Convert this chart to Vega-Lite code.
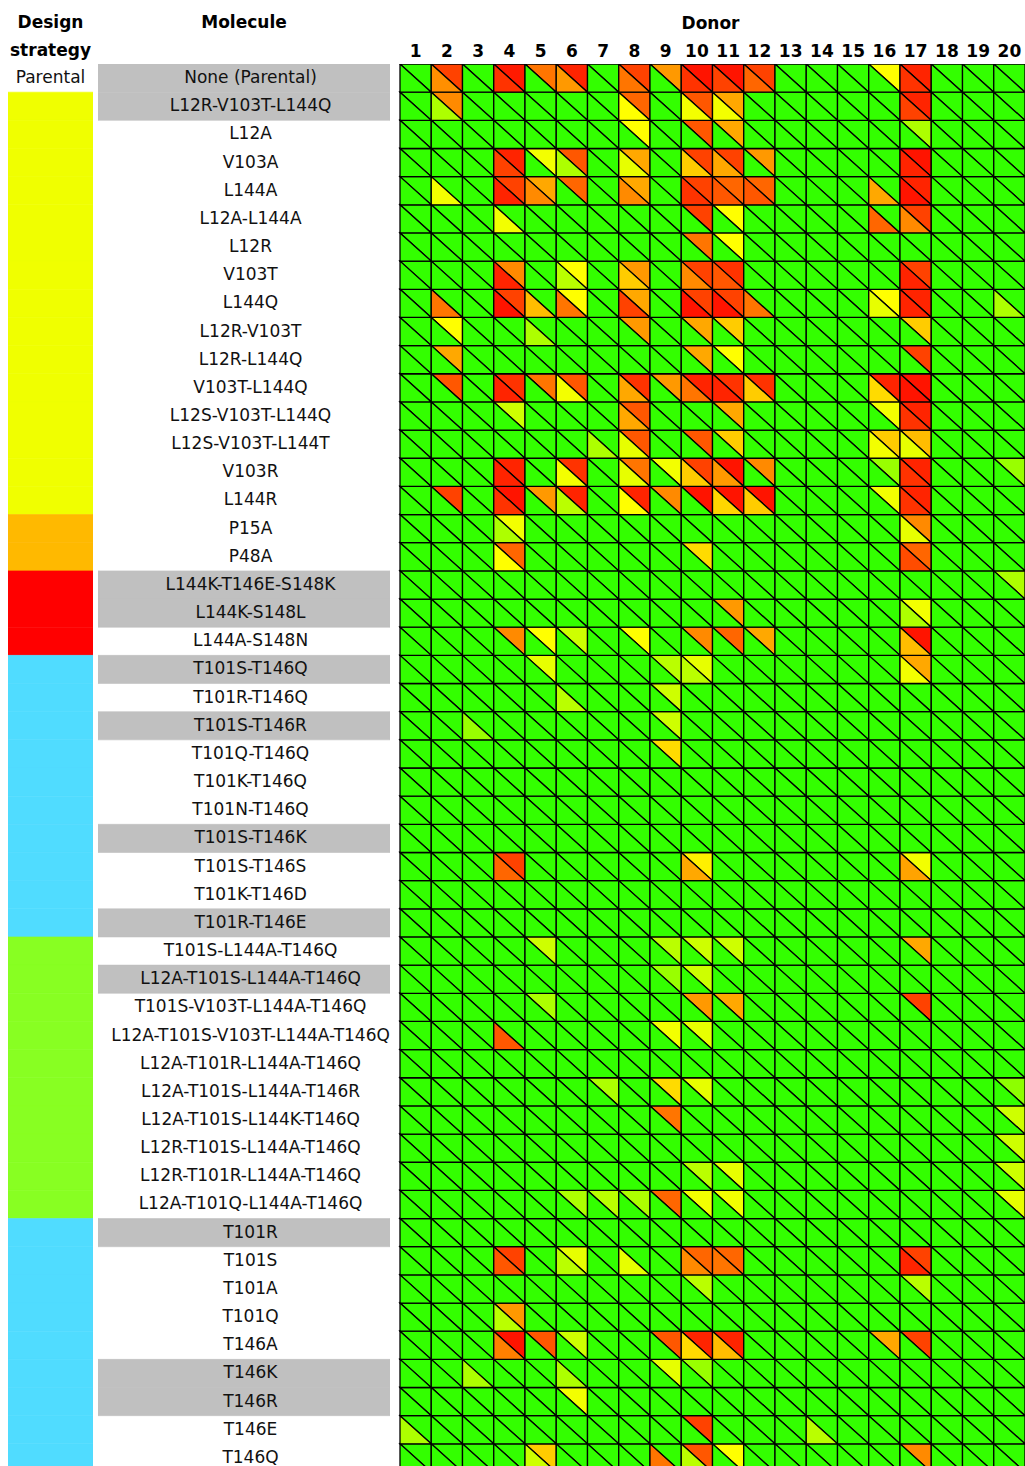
{
"$schema":"https://vega.github.io/schema/vega-lite/v6.json",
"background":"white",
"padding":{"left":8,"top":14,"right":0,"bottom":0},
"spacing":5,
"bounds":"flush",
"config":{"view":{"stroke":null},"font":"DejaVu Sans","title":{"font":"DejaVu Sans","fontSize":17,"fontWeight":"bold","color":"black","anchor":"middle"}},
"datasets":{
"rows":[
{"r":1,"m":"None (Parental)","s":"Parental","g":1},
{"r":2,"m":"L12R-V103T-L144Q","s":"S1","g":1},
{"r":3,"m":"L12A","s":"S1","g":0},
{"r":4,"m":"V103A","s":"S1","g":0},
{"r":5,"m":"L144A","s":"S1","g":0},
{"r":6,"m":"L12A-L144A","s":"S1","g":0},
{"r":7,"m":"L12R","s":"S1","g":0},
{"r":8,"m":"V103T","s":"S1","g":0},
{"r":9,"m":"L144Q","s":"S1","g":0},
{"r":10,"m":"L12R-V103T","s":"S1","g":0},
{"r":11,"m":"L12R-L144Q","s":"S1","g":0},
{"r":12,"m":"V103T-L144Q","s":"S1","g":0},
{"r":13,"m":"L12S-V103T-L144Q","s":"S1","g":0},
{"r":14,"m":"L12S-V103T-L144T","s":"S1","g":0},
{"r":15,"m":"V103R","s":"S1","g":0},
{"r":16,"m":"L144R","s":"S1","g":0},
{"r":17,"m":"P15A","s":"S2","g":0},
{"r":18,"m":"P48A","s":"S2","g":0},
{"r":19,"m":"L144K-T146E-S148K","s":"S3","g":1},
{"r":20,"m":"L144K-S148L","s":"S3","g":1},
{"r":21,"m":"L144A-S148N","s":"S3","g":0},
{"r":22,"m":"T101S-T146Q","s":"S4","g":1},
{"r":23,"m":"T101R-T146Q","s":"S4","g":0},
{"r":24,"m":"T101S-T146R","s":"S4","g":1},
{"r":25,"m":"T101Q-T146Q","s":"S4","g":0},
{"r":26,"m":"T101K-T146Q","s":"S4","g":0},
{"r":27,"m":"T101N-T146Q","s":"S4","g":0},
{"r":28,"m":"T101S-T146K","s":"S4","g":1},
{"r":29,"m":"T101S-T146S","s":"S4","g":0},
{"r":30,"m":"T101K-T146D","s":"S4","g":0},
{"r":31,"m":"T101R-T146E","s":"S4","g":1},
{"r":32,"m":"T101S-L144A-T146Q","s":"S5","g":0},
{"r":33,"m":"L12A-T101S-L144A-T146Q","s":"S5","g":1},
{"r":34,"m":"T101S-V103T-L144A-T146Q","s":"S5","g":0},
{"r":35,"m":"L12A-T101S-V103T-L144A-T146Q","s":"S5","g":0},
{"r":36,"m":"L12A-T101R-L144A-T146Q","s":"S5","g":0},
{"r":37,"m":"L12A-T101S-L144A-T146R","s":"S5","g":0},
{"r":38,"m":"L12A-T101S-L144K-T146Q","s":"S5","g":0},
{"r":39,"m":"L12R-T101S-L144A-T146Q","s":"S5","g":0},
{"r":40,"m":"L12R-T101R-L144A-T146Q","s":"S5","g":0},
{"r":41,"m":"L12A-T101Q-L144A-T146Q","s":"S5","g":0},
{"r":42,"m":"T101R","s":"S4","g":1},
{"r":43,"m":"T101S","s":"S4","g":0},
{"r":44,"m":"T101A","s":"S4","g":0},
{"r":45,"m":"T101Q","s":"S4","g":0},
{"r":46,"m":"T146A","s":"S4","g":0},
{"r":47,"m":"T146K","s":"S4","g":1},
{"r":48,"m":"T146R","s":"S4","g":1},
{"r":49,"m":"T146E","s":"S4","g":0},
{"r":50,"m":"T146Q","s":"S4","g":0}
],
"cells":[
{"r":1,"d":1,"u":0,"l":0},{"r":1,"d":2,"u":87,"l":72},{"r":1,"d":3,"u":0,"l":0},{"r":1,"d":4,"u":95,"l":90},{"r":1,"d":5,"u":77,"l":0},{"r":1,"d":6,"u":93,"l":70},{"r":1,"d":7,"u":0,"l":0},{"r":1,"d":8,"u":87,"l":77},{"r":1,"d":9,"u":70,"l":0},{"r":1,"d":10,"u":96,"l":90},{"r":1,"d":11,"u":96,"l":87},{"r":1,"d":12,"u":87,"l":80},{"r":1,"d":13,"u":0,"l":0},{"r":1,"d":14,"u":0,"l":0},{"r":1,"d":15,"u":0,"l":0},{"r":1,"d":16,"u":50,"l":0},{"r":1,"d":17,"u":93,"l":90},{"r":1,"d":18,"u":0,"l":0},{"r":1,"d":19,"u":0,"l":0},{"r":1,"d":20,"u":0,"l":0},
{"r":2,"d":1,"u":0,"l":0},{"r":2,"d":2,"u":73,"l":30},{"r":2,"d":3,"u":0,"l":0},{"r":2,"d":4,"u":0,"l":0},{"r":2,"d":5,"u":0,"l":0},{"r":2,"d":6,"u":0,"l":0},{"r":2,"d":7,"u":0,"l":0},{"r":2,"d":8,"u":80,"l":50},{"r":2,"d":9,"u":0,"l":0},{"r":2,"d":10,"u":83,"l":47},{"r":2,"d":11,"u":67,"l":47},{"r":2,"d":12,"u":0,"l":0},{"r":2,"d":13,"u":0,"l":0},{"r":2,"d":14,"u":0,"l":0},{"r":2,"d":15,"u":0,"l":0},{"r":2,"d":16,"u":0,"l":0},{"r":2,"d":17,"u":93,"l":87},{"r":2,"d":18,"u":0,"l":0},{"r":2,"d":19,"u":0,"l":0},{"r":2,"d":20,"u":0,"l":0},
{"r":3,"d":1,"u":0,"l":0},{"r":3,"d":2,"u":0,"l":0},{"r":3,"d":3,"u":0,"l":0},{"r":3,"d":4,"u":0,"l":0},{"r":3,"d":5,"u":0,"l":0},{"r":3,"d":6,"u":0,"l":0},{"r":3,"d":7,"u":0,"l":0},{"r":3,"d":8,"u":50,"l":0},{"r":3,"d":9,"u":0,"l":0},{"r":3,"d":10,"u":83,"l":0},{"r":3,"d":11,"u":67,"l":0},{"r":3,"d":12,"u":0,"l":0},{"r":3,"d":13,"u":0,"l":0},{"r":3,"d":14,"u":0,"l":0},{"r":3,"d":15,"u":0,"l":0},{"r":3,"d":16,"u":0,"l":0},{"r":3,"d":17,"u":30,"l":0},{"r":3,"d":18,"u":0,"l":0},{"r":3,"d":19,"u":0,"l":0},{"r":3,"d":20,"u":0,"l":0},
{"r":4,"d":1,"u":0,"l":0},{"r":4,"d":2,"u":0,"l":0},{"r":4,"d":3,"u":0,"l":0},{"r":4,"d":4,"u":93,"l":87},{"r":4,"d":5,"u":47,"l":0},{"r":4,"d":6,"u":83,"l":30},{"r":4,"d":7,"u":0,"l":0},{"r":4,"d":8,"u":67,"l":44},{"r":4,"d":9,"u":0,"l":0},{"r":4,"d":10,"u":87,"l":60},{"r":4,"d":11,"u":87,"l":67},{"r":4,"d":12,"u":70,"l":0},{"r":4,"d":13,"u":0,"l":0},{"r":4,"d":14,"u":0,"l":0},{"r":4,"d":15,"u":0,"l":0},{"r":4,"d":16,"u":0,"l":0},{"r":4,"d":17,"u":96,"l":93},{"r":4,"d":18,"u":0,"l":0},{"r":4,"d":19,"u":0,"l":0},{"r":4,"d":20,"u":0,"l":0},
{"r":5,"d":1,"u":0,"l":0},{"r":5,"d":2,"u":0,"l":47},{"r":5,"d":3,"u":0,"l":0},{"r":5,"d":4,"u":87,"l":93},{"r":5,"d":5,"u":67,"l":73},{"r":5,"d":6,"u":80,"l":0},{"r":5,"d":7,"u":0,"l":0},{"r":5,"d":8,"u":67,"l":73},{"r":5,"d":9,"u":0,"l":0},{"r":5,"d":10,"u":87,"l":90},{"r":5,"d":11,"u":80,"l":83},{"r":5,"d":12,"u":80,"l":83},{"r":5,"d":13,"u":0,"l":0},{"r":5,"d":14,"u":0,"l":0},{"r":5,"d":15,"u":0,"l":0},{"r":5,"d":16,"u":0,"l":67},{"r":5,"d":17,"u":93,"l":96},{"r":5,"d":18,"u":0,"l":0},{"r":5,"d":19,"u":0,"l":0},{"r":5,"d":20,"u":0,"l":0},
{"r":6,"d":1,"u":0,"l":0},{"r":6,"d":2,"u":0,"l":0},{"r":6,"d":3,"u":0,"l":0},{"r":6,"d":4,"u":0,"l":47},{"r":6,"d":5,"u":0,"l":0},{"r":6,"d":6,"u":0,"l":0},{"r":6,"d":7,"u":0,"l":0},{"r":6,"d":8,"u":0,"l":0},{"r":6,"d":9,"u":0,"l":0},{"r":6,"d":10,"u":87,"l":0},{"r":6,"d":11,"u":50,"l":0},{"r":6,"d":12,"u":0,"l":0},{"r":6,"d":13,"u":0,"l":0},{"r":6,"d":14,"u":0,"l":0},{"r":6,"d":15,"u":0,"l":0},{"r":6,"d":16,"u":0,"l":80},{"r":6,"d":17,"u":87,"l":73},{"r":6,"d":18,"u":0,"l":0},{"r":6,"d":19,"u":0,"l":0},{"r":6,"d":20,"u":0,"l":0},
{"r":7,"d":1,"u":0,"l":0},{"r":7,"d":2,"u":0,"l":0},{"r":7,"d":3,"u":0,"l":0},{"r":7,"d":4,"u":0,"l":0},{"r":7,"d":5,"u":0,"l":0},{"r":7,"d":6,"u":0,"l":0},{"r":7,"d":7,"u":0,"l":0},{"r":7,"d":8,"u":0,"l":0},{"r":7,"d":9,"u":0,"l":0},{"r":7,"d":10,"u":77,"l":0},{"r":7,"d":11,"u":50,"l":0},{"r":7,"d":12,"u":0,"l":0},{"r":7,"d":13,"u":0,"l":0},{"r":7,"d":14,"u":0,"l":0},{"r":7,"d":15,"u":0,"l":0},{"r":7,"d":16,"u":0,"l":0},{"r":7,"d":17,"u":0,"l":0},{"r":7,"d":18,"u":0,"l":0},{"r":7,"d":19,"u":0,"l":0},{"r":7,"d":20,"u":0,"l":0},
{"r":8,"d":1,"u":0,"l":0},{"r":8,"d":2,"u":0,"l":0},{"r":8,"d":3,"u":0,"l":0},{"r":8,"d":4,"u":73,"l":93},{"r":8,"d":5,"u":0,"l":0},{"r":8,"d":6,"u":50,"l":33},{"r":8,"d":7,"u":0,"l":0},{"r":8,"d":8,"u":70,"l":60},{"r":8,"d":9,"u":0,"l":0},{"r":8,"d":10,"u":87,"l":73},{"r":8,"d":11,"u":90,"l":83},{"r":8,"d":12,"u":0,"l":0},{"r":8,"d":13,"u":0,"l":0},{"r":8,"d":14,"u":0,"l":0},{"r":8,"d":15,"u":0,"l":0},{"r":8,"d":16,"u":0,"l":0},{"r":8,"d":17,"u":87,"l":93},{"r":8,"d":18,"u":0,"l":0},{"r":8,"d":19,"u":0,"l":0},{"r":8,"d":20,"u":0,"l":0},
{"r":9,"d":1,"u":0,"l":0},{"r":9,"d":2,"u":0,"l":77},{"r":9,"d":3,"u":0,"l":0},{"r":9,"d":4,"u":87,"l":96},{"r":9,"d":5,"u":0,"l":63},{"r":9,"d":6,"u":50,"l":77},{"r":9,"d":7,"u":0,"l":0},{"r":9,"d":8,"u":67,"l":87},{"r":9,"d":9,"u":0,"l":0},{"r":9,"d":10,"u":87,"l":96},{"r":9,"d":11,"u":87,"l":96},{"r":9,"d":12,"u":0,"l":77},{"r":9,"d":13,"u":0,"l":0},{"r":9,"d":14,"u":0,"l":0},{"r":9,"d":15,"u":0,"l":0},{"r":9,"d":16,"u":50,"l":44},{"r":9,"d":17,"u":93,"l":93},{"r":9,"d":18,"u":0,"l":0},{"r":9,"d":19,"u":0,"l":0},{"r":9,"d":20,"u":0,"l":30},
{"r":10,"d":1,"u":0,"l":0},{"r":10,"d":2,"u":50,"l":0},{"r":10,"d":3,"u":0,"l":0},{"r":10,"d":4,"u":0,"l":0},{"r":10,"d":5,"u":0,"l":30},{"r":10,"d":6,"u":0,"l":0},{"r":10,"d":7,"u":0,"l":0},{"r":10,"d":8,"u":70,"l":0},{"r":10,"d":9,"u":0,"l":0},{"r":10,"d":10,"u":67,"l":0},{"r":10,"d":11,"u":60,"l":0},{"r":10,"d":12,"u":0,"l":0},{"r":10,"d":13,"u":0,"l":0},{"r":10,"d":14,"u":0,"l":0},{"r":10,"d":15,"u":0,"l":0},{"r":10,"d":16,"u":0,"l":0},{"r":10,"d":17,"u":60,"l":0},{"r":10,"d":18,"u":0,"l":0},{"r":10,"d":19,"u":0,"l":0},{"r":10,"d":20,"u":0,"l":0},
{"r":11,"d":1,"u":0,"l":0},{"r":11,"d":2,"u":67,"l":0},{"r":11,"d":3,"u":0,"l":0},{"r":11,"d":4,"u":0,"l":0},{"r":11,"d":5,"u":0,"l":0},{"r":11,"d":6,"u":0,"l":0},{"r":11,"d":7,"u":0,"l":0},{"r":11,"d":8,"u":0,"l":0},{"r":11,"d":9,"u":0,"l":0},{"r":11,"d":10,"u":67,"l":0},{"r":11,"d":11,"u":50,"l":0},{"r":11,"d":12,"u":0,"l":0},{"r":11,"d":13,"u":0,"l":0},{"r":11,"d":14,"u":0,"l":0},{"r":11,"d":15,"u":0,"l":0},{"r":11,"d":16,"u":0,"l":0},{"r":11,"d":17,"u":87,"l":0},{"r":11,"d":18,"u":0,"l":0},{"r":11,"d":19,"u":0,"l":0},{"r":11,"d":20,"u":0,"l":0},
{"r":12,"d":1,"u":0,"l":0},{"r":12,"d":2,"u":83,"l":0},{"r":12,"d":3,"u":0,"l":0},{"r":12,"d":4,"u":90,"l":93},{"r":12,"d":5,"u":77,"l":0},{"r":12,"d":6,"u":83,"l":47},{"r":12,"d":7,"u":0,"l":0},{"r":12,"d":8,"u":90,"l":67},{"r":12,"d":9,"u":70,"l":0},{"r":12,"d":10,"u":93,"l":77},{"r":12,"d":11,"u":90,"l":93},{"r":12,"d":12,"u":90,"l":60},{"r":12,"d":13,"u":0,"l":0},{"r":12,"d":14,"u":0,"l":0},{"r":12,"d":15,"u":0,"l":0},{"r":12,"d":16,"u":93,"l":57},{"r":12,"d":17,"u":96,"l":96},{"r":12,"d":18,"u":0,"l":0},{"r":12,"d":19,"u":0,"l":0},{"r":12,"d":20,"u":0,"l":0},
{"r":13,"d":1,"u":0,"l":0},{"r":13,"d":2,"u":0,"l":0},{"r":13,"d":3,"u":0,"l":0},{"r":13,"d":4,"u":38,"l":0},{"r":13,"d":5,"u":0,"l":0},{"r":13,"d":6,"u":0,"l":0},{"r":13,"d":7,"u":0,"l":0},{"r":13,"d":8,"u":83,"l":67},{"r":13,"d":9,"u":0,"l":0},{"r":13,"d":10,"u":0,"l":0},{"r":13,"d":11,"u":67,"l":0},{"r":13,"d":12,"u":0,"l":0},{"r":13,"d":13,"u":0,"l":0},{"r":13,"d":14,"u":0,"l":0},{"r":13,"d":15,"u":0,"l":0},{"r":13,"d":16,"u":47,"l":0},{"r":13,"d":17,"u":93,"l":90},{"r":13,"d":18,"u":0,"l":0},{"r":13,"d":19,"u":0,"l":0},{"r":13,"d":20,"u":0,"l":0},
{"r":14,"d":1,"u":0,"l":0},{"r":14,"d":2,"u":0,"l":0},{"r":14,"d":3,"u":0,"l":0},{"r":14,"d":4,"u":0,"l":0},{"r":14,"d":5,"u":0,"l":0},{"r":14,"d":6,"u":0,"l":0},{"r":14,"d":7,"u":0,"l":30},{"r":14,"d":8,"u":83,"l":44},{"r":14,"d":9,"u":0,"l":0},{"r":14,"d":10,"u":83,"l":0},{"r":14,"d":11,"u":60,"l":0},{"r":14,"d":12,"u":0,"l":0},{"r":14,"d":13,"u":0,"l":0},{"r":14,"d":14,"u":0,"l":0},{"r":14,"d":15,"u":0,"l":0},{"r":14,"d":16,"u":60,"l":47},{"r":14,"d":17,"u":63,"l":44},{"r":14,"d":18,"u":0,"l":0},{"r":14,"d":19,"u":0,"l":0},{"r":14,"d":20,"u":0,"l":0},
{"r":15,"d":1,"u":0,"l":0},{"r":15,"d":2,"u":0,"l":0},{"r":15,"d":3,"u":0,"l":0},{"r":15,"d":4,"u":93,"l":93},{"r":15,"d":5,"u":0,"l":0},{"r":15,"d":6,"u":90,"l":47},{"r":15,"d":7,"u":0,"l":0},{"r":15,"d":8,"u":77,"l":44},{"r":15,"d":9,"u":47,"l":0},{"r":15,"d":10,"u":87,"l":60},{"r":15,"d":11,"u":96,"l":70},{"r":15,"d":12,"u":73,"l":0},{"r":15,"d":13,"u":0,"l":0},{"r":15,"d":14,"u":0,"l":0},{"r":15,"d":15,"u":0,"l":0},{"r":15,"d":16,"u":25,"l":0},{"r":15,"d":17,"u":93,"l":90},{"r":15,"d":18,"u":0,"l":0},{"r":15,"d":19,"u":0,"l":0},{"r":15,"d":20,"u":25,"l":0},
{"r":16,"d":1,"u":0,"l":0},{"r":16,"d":2,"u":87,"l":0},{"r":16,"d":3,"u":0,"l":0},{"r":16,"d":4,"u":96,"l":90},{"r":16,"d":5,"u":70,"l":0},{"r":16,"d":6,"u":93,"l":33},{"r":16,"d":7,"u":0,"l":0},{"r":16,"d":8,"u":93,"l":50},{"r":16,"d":9,"u":73,"l":0},{"r":16,"d":10,"u":96,"l":0},{"r":16,"d":11,"u":96,"l":58},{"r":16,"d":12,"u":96,"l":60},{"r":16,"d":13,"u":0,"l":0},{"r":16,"d":14,"u":0,"l":0},{"r":16,"d":15,"u":0,"l":0},{"r":16,"d":16,"u":47,"l":0},{"r":16,"d":17,"u":93,"l":90},{"r":16,"d":18,"u":0,"l":0},{"r":16,"d":19,"u":0,"l":0},{"r":16,"d":20,"u":0,"l":0},
{"r":17,"d":1,"u":0,"l":0},{"r":17,"d":2,"u":0,"l":0},{"r":17,"d":3,"u":0,"l":0},{"r":17,"d":4,"u":47,"l":30},{"r":17,"d":5,"u":0,"l":0},{"r":17,"d":6,"u":0,"l":0},{"r":17,"d":7,"u":0,"l":0},{"r":17,"d":8,"u":0,"l":0},{"r":17,"d":9,"u":0,"l":0},{"r":17,"d":10,"u":0,"l":0},{"r":17,"d":11,"u":0,"l":0},{"r":17,"d":12,"u":0,"l":0},{"r":17,"d":13,"u":0,"l":0},{"r":17,"d":14,"u":0,"l":0},{"r":17,"d":15,"u":0,"l":0},{"r":17,"d":16,"u":0,"l":0},{"r":17,"d":17,"u":73,"l":44},{"r":17,"d":18,"u":0,"l":0},{"r":17,"d":19,"u":0,"l":0},{"r":17,"d":20,"u":0,"l":0},
{"r":18,"d":1,"u":0,"l":0},{"r":18,"d":2,"u":0,"l":0},{"r":18,"d":3,"u":0,"l":0},{"r":18,"d":4,"u":80,"l":50},{"r":18,"d":5,"u":0,"l":0},{"r":18,"d":6,"u":0,"l":0},{"r":18,"d":7,"u":0,"l":0},{"r":18,"d":8,"u":0,"l":0},{"r":18,"d":9,"u":0,"l":0},{"r":18,"d":10,"u":57,"l":0},{"r":18,"d":11,"u":0,"l":0},{"r":18,"d":12,"u":0,"l":0},{"r":18,"d":13,"u":0,"l":0},{"r":18,"d":14,"u":0,"l":0},{"r":18,"d":15,"u":0,"l":0},{"r":18,"d":16,"u":0,"l":0},{"r":18,"d":17,"u":80,"l":85},{"r":18,"d":18,"u":0,"l":0},{"r":18,"d":19,"u":0,"l":0},{"r":18,"d":20,"u":0,"l":0},
{"r":19,"d":1,"u":0,"l":0},{"r":19,"d":2,"u":0,"l":0},{"r":19,"d":3,"u":0,"l":0},{"r":19,"d":4,"u":0,"l":0},{"r":19,"d":5,"u":0,"l":0},{"r":19,"d":6,"u":0,"l":0},{"r":19,"d":7,"u":0,"l":0},{"r":19,"d":8,"u":0,"l":0},{"r":19,"d":9,"u":0,"l":0},{"r":19,"d":10,"u":0,"l":0},{"r":19,"d":11,"u":0,"l":0},{"r":19,"d":12,"u":0,"l":0},{"r":19,"d":13,"u":0,"l":0},{"r":19,"d":14,"u":0,"l":0},{"r":19,"d":15,"u":0,"l":0},{"r":19,"d":16,"u":0,"l":0},{"r":19,"d":17,"u":0,"l":0},{"r":19,"d":18,"u":0,"l":0},{"r":19,"d":19,"u":0,"l":0},{"r":19,"d":20,"u":30,"l":0},
{"r":20,"d":1,"u":0,"l":0},{"r":20,"d":2,"u":0,"l":0},{"r":20,"d":3,"u":0,"l":0},{"r":20,"d":4,"u":0,"l":0},{"r":20,"d":5,"u":0,"l":0},{"r":20,"d":6,"u":0,"l":0},{"r":20,"d":7,"u":0,"l":0},{"r":20,"d":8,"u":0,"l":0},{"r":20,"d":9,"u":0,"l":0},{"r":20,"d":10,"u":0,"l":0},{"r":20,"d":11,"u":70,"l":0},{"r":20,"d":12,"u":0,"l":0},{"r":20,"d":13,"u":0,"l":0},{"r":20,"d":14,"u":0,"l":0},{"r":20,"d":15,"u":0,"l":0},{"r":20,"d":16,"u":0,"l":0},{"r":20,"d":17,"u":47,"l":30},{"r":20,"d":18,"u":0,"l":0},{"r":20,"d":19,"u":0,"l":0},{"r":20,"d":20,"u":0,"l":0},
{"r":21,"d":1,"u":0,"l":0},{"r":21,"d":2,"u":0,"l":0},{"r":21,"d":3,"u":0,"l":0},{"r":21,"d":4,"u":73,"l":0},{"r":21,"d":5,"u":50,"l":0},{"r":21,"d":6,"u":38,"l":0},{"r":21,"d":7,"u":0,"l":0},{"r":21,"d":8,"u":50,"l":0},{"r":21,"d":9,"u":0,"l":0},{"r":21,"d":10,"u":73,"l":0},{"r":21,"d":11,"u":80,"l":0},{"r":21,"d":12,"u":67,"l":0},{"r":21,"d":13,"u":0,"l":0},{"r":21,"d":14,"u":0,"l":0},{"r":21,"d":15,"u":0,"l":0},{"r":21,"d":16,"u":0,"l":0},{"r":21,"d":17,"u":96,"l":63},{"r":21,"d":18,"u":0,"l":0},{"r":21,"d":19,"u":0,"l":0},{"r":21,"d":20,"u":0,"l":0},
{"r":22,"d":1,"u":0,"l":0},{"r":22,"d":2,"u":0,"l":0},{"r":22,"d":3,"u":0,"l":0},{"r":22,"d":4,"u":0,"l":0},{"r":22,"d":5,"u":44,"l":0},{"r":22,"d":6,"u":0,"l":0},{"r":22,"d":7,"u":0,"l":0},{"r":22,"d":8,"u":0,"l":0},{"r":22,"d":9,"u":33,"l":0},{"r":22,"d":10,"u":44,"l":33},{"r":22,"d":11,"u":0,"l":0},{"r":22,"d":12,"u":0,"l":0},{"r":22,"d":13,"u":0,"l":0},{"r":22,"d":14,"u":0,"l":0},{"r":22,"d":15,"u":0,"l":0},{"r":22,"d":16,"u":0,"l":0},{"r":22,"d":17,"u":67,"l":47},{"r":22,"d":18,"u":0,"l":0},{"r":22,"d":19,"u":0,"l":0},{"r":22,"d":20,"u":0,"l":0},
{"r":23,"d":1,"u":0,"l":0},{"r":23,"d":2,"u":0,"l":0},{"r":23,"d":3,"u":0,"l":0},{"r":23,"d":4,"u":0,"l":0},{"r":23,"d":5,"u":0,"l":0},{"r":23,"d":6,"u":0,"l":33},{"r":23,"d":7,"u":0,"l":0},{"r":23,"d":8,"u":0,"l":0},{"r":23,"d":9,"u":38,"l":0},{"r":23,"d":10,"u":0,"l":0},{"r":23,"d":11,"u":0,"l":0},{"r":23,"d":12,"u":0,"l":0},{"r":23,"d":13,"u":0,"l":0},{"r":23,"d":14,"u":0,"l":0},{"r":23,"d":15,"u":0,"l":0},{"r":23,"d":16,"u":0,"l":0},{"r":23,"d":17,"u":0,"l":0},{"r":23,"d":18,"u":0,"l":0},{"r":23,"d":19,"u":0,"l":0},{"r":23,"d":20,"u":0,"l":0},
{"r":24,"d":1,"u":0,"l":0},{"r":24,"d":2,"u":0,"l":0},{"r":24,"d":3,"u":0,"l":25},{"r":24,"d":4,"u":0,"l":0},{"r":24,"d":5,"u":0,"l":0},{"r":24,"d":6,"u":0,"l":0},{"r":24,"d":7,"u":0,"l":0},{"r":24,"d":8,"u":0,"l":0},{"r":24,"d":9,"u":38,"l":0},{"r":24,"d":10,"u":0,"l":0},{"r":24,"d":11,"u":0,"l":0},{"r":24,"d":12,"u":0,"l":0},{"r":24,"d":13,"u":0,"l":0},{"r":24,"d":14,"u":0,"l":0},{"r":24,"d":15,"u":0,"l":0},{"r":24,"d":16,"u":0,"l":0},{"r":24,"d":17,"u":0,"l":0},{"r":24,"d":18,"u":0,"l":0},{"r":24,"d":19,"u":0,"l":0},{"r":24,"d":20,"u":0,"l":0},
{"r":25,"d":1,"u":0,"l":0},{"r":25,"d":2,"u":0,"l":0},{"r":25,"d":3,"u":0,"l":0},{"r":25,"d":4,"u":0,"l":0},{"r":25,"d":5,"u":0,"l":0},{"r":25,"d":6,"u":0,"l":0},{"r":25,"d":7,"u":0,"l":0},{"r":25,"d":8,"u":0,"l":0},{"r":25,"d":9,"u":57,"l":0},{"r":25,"d":10,"u":0,"l":0},{"r":25,"d":11,"u":0,"l":0},{"r":25,"d":12,"u":0,"l":0},{"r":25,"d":13,"u":0,"l":0},{"r":25,"d":14,"u":0,"l":0},{"r":25,"d":15,"u":0,"l":0},{"r":25,"d":16,"u":0,"l":0},{"r":25,"d":17,"u":0,"l":0},{"r":25,"d":18,"u":0,"l":0},{"r":25,"d":19,"u":0,"l":0},{"r":25,"d":20,"u":0,"l":0},
{"r":26,"d":1,"u":0,"l":0},{"r":26,"d":2,"u":0,"l":0},{"r":26,"d":3,"u":0,"l":0},{"r":26,"d":4,"u":0,"l":0},{"r":26,"d":5,"u":0,"l":0},{"r":26,"d":6,"u":0,"l":0},{"r":26,"d":7,"u":0,"l":0},{"r":26,"d":8,"u":0,"l":0},{"r":26,"d":9,"u":0,"l":0},{"r":26,"d":10,"u":0,"l":0},{"r":26,"d":11,"u":0,"l":0},{"r":26,"d":12,"u":0,"l":0},{"r":26,"d":13,"u":0,"l":0},{"r":26,"d":14,"u":0,"l":0},{"r":26,"d":15,"u":0,"l":0},{"r":26,"d":16,"u":0,"l":0},{"r":26,"d":17,"u":0,"l":0},{"r":26,"d":18,"u":0,"l":0},{"r":26,"d":19,"u":0,"l":0},{"r":26,"d":20,"u":0,"l":0},
{"r":27,"d":1,"u":0,"l":0},{"r":27,"d":2,"u":0,"l":0},{"r":27,"d":3,"u":0,"l":0},{"r":27,"d":4,"u":0,"l":0},{"r":27,"d":5,"u":0,"l":0},{"r":27,"d":6,"u":0,"l":0},{"r":27,"d":7,"u":0,"l":0},{"r":27,"d":8,"u":0,"l":0},{"r":27,"d":9,"u":0,"l":0},{"r":27,"d":10,"u":0,"l":0},{"r":27,"d":11,"u":0,"l":0},{"r":27,"d":12,"u":0,"l":0},{"r":27,"d":13,"u":0,"l":0},{"r":27,"d":14,"u":0,"l":0},{"r":27,"d":15,"u":0,"l":0},{"r":27,"d":16,"u":0,"l":0},{"r":27,"d":17,"u":0,"l":0},{"r":27,"d":18,"u":0,"l":0},{"r":27,"d":19,"u":0,"l":0},{"r":27,"d":20,"u":0,"l":0},
{"r":28,"d":1,"u":0,"l":0},{"r":28,"d":2,"u":0,"l":0},{"r":28,"d":3,"u":0,"l":0},{"r":28,"d":4,"u":0,"l":0},{"r":28,"d":5,"u":0,"l":0},{"r":28,"d":6,"u":0,"l":0},{"r":28,"d":7,"u":0,"l":0},{"r":28,"d":8,"u":0,"l":0},{"r":28,"d":9,"u":0,"l":0},{"r":28,"d":10,"u":0,"l":0},{"r":28,"d":11,"u":0,"l":0},{"r":28,"d":12,"u":0,"l":0},{"r":28,"d":13,"u":0,"l":0},{"r":28,"d":14,"u":0,"l":0},{"r":28,"d":15,"u":0,"l":0},{"r":28,"d":16,"u":0,"l":0},{"r":28,"d":17,"u":0,"l":0},{"r":28,"d":18,"u":0,"l":0},{"r":28,"d":19,"u":0,"l":0},{"r":28,"d":20,"u":0,"l":0},
{"r":29,"d":1,"u":0,"l":0},{"r":29,"d":2,"u":0,"l":0},{"r":29,"d":3,"u":0,"l":0},{"r":29,"d":4,"u":87,"l":80},{"r":29,"d":5,"u":0,"l":0},{"r":29,"d":6,"u":0,"l":0},{"r":29,"d":7,"u":0,"l":0},{"r":29,"d":8,"u":0,"l":0},{"r":29,"d":9,"u":0,"l":0},{"r":29,"d":10,"u":53,"l":67},{"r":29,"d":11,"u":0,"l":0},{"r":29,"d":12,"u":0,"l":0},{"r":29,"d":13,"u":0,"l":0},{"r":29,"d":14,"u":0,"l":0},{"r":29,"d":15,"u":0,"l":0},{"r":29,"d":16,"u":0,"l":0},{"r":29,"d":17,"u":47,"l":68},{"r":29,"d":18,"u":0,"l":0},{"r":29,"d":19,"u":0,"l":0},{"r":29,"d":20,"u":0,"l":0},
{"r":30,"d":1,"u":0,"l":0},{"r":30,"d":2,"u":0,"l":0},{"r":30,"d":3,"u":0,"l":0},{"r":30,"d":4,"u":0,"l":0},{"r":30,"d":5,"u":0,"l":0},{"r":30,"d":6,"u":0,"l":0},{"r":30,"d":7,"u":0,"l":0},{"r":30,"d":8,"u":0,"l":0},{"r":30,"d":9,"u":0,"l":0},{"r":30,"d":10,"u":0,"l":0},{"r":30,"d":11,"u":0,"l":0},{"r":30,"d":12,"u":0,"l":0},{"r":30,"d":13,"u":0,"l":0},{"r":30,"d":14,"u":0,"l":0},{"r":30,"d":15,"u":0,"l":0},{"r":30,"d":16,"u":0,"l":0},{"r":30,"d":17,"u":0,"l":0},{"r":30,"d":18,"u":0,"l":0},{"r":30,"d":19,"u":0,"l":0},{"r":30,"d":20,"u":0,"l":0},
{"r":31,"d":1,"u":0,"l":0},{"r":31,"d":2,"u":0,"l":0},{"r":31,"d":3,"u":0,"l":0},{"r":31,"d":4,"u":0,"l":0},{"r":31,"d":5,"u":0,"l":0},{"r":31,"d":6,"u":0,"l":0},{"r":31,"d":7,"u":0,"l":0},{"r":31,"d":8,"u":0,"l":0},{"r":31,"d":9,"u":0,"l":0},{"r":31,"d":10,"u":0,"l":0},{"r":31,"d":11,"u":0,"l":0},{"r":31,"d":12,"u":0,"l":0},{"r":31,"d":13,"u":0,"l":0},{"r":31,"d":14,"u":0,"l":0},{"r":31,"d":15,"u":0,"l":0},{"r":31,"d":16,"u":0,"l":0},{"r":31,"d":17,"u":0,"l":0},{"r":31,"d":18,"u":0,"l":0},{"r":31,"d":19,"u":0,"l":0},{"r":31,"d":20,"u":0,"l":0},
{"r":32,"d":1,"u":0,"l":0},{"r":32,"d":2,"u":0,"l":0},{"r":32,"d":3,"u":0,"l":0},{"r":32,"d":4,"u":0,"l":0},{"r":32,"d":5,"u":38,"l":0},{"r":32,"d":6,"u":0,"l":0},{"r":32,"d":7,"u":0,"l":0},{"r":32,"d":8,"u":0,"l":0},{"r":32,"d":9,"u":33,"l":0},{"r":32,"d":10,"u":38,"l":0},{"r":32,"d":11,"u":38,"l":0},{"r":32,"d":12,"u":0,"l":0},{"r":32,"d":13,"u":0,"l":0},{"r":32,"d":14,"u":0,"l":0},{"r":32,"d":15,"u":0,"l":0},{"r":32,"d":16,"u":0,"l":0},{"r":32,"d":17,"u":67,"l":0},{"r":32,"d":18,"u":0,"l":0},{"r":32,"d":19,"u":0,"l":0},{"r":32,"d":20,"u":0,"l":0},
{"r":33,"d":1,"u":0,"l":0},{"r":33,"d":2,"u":0,"l":0},{"r":33,"d":3,"u":0,"l":0},{"r":33,"d":4,"u":0,"l":0},{"r":33,"d":5,"u":0,"l":0},{"r":33,"d":6,"u":0,"l":0},{"r":33,"d":7,"u":0,"l":0},{"r":33,"d":8,"u":0,"l":0},{"r":33,"d":9,"u":25,"l":0},{"r":33,"d":10,"u":38,"l":0},{"r":33,"d":11,"u":0,"l":0},{"r":33,"d":12,"u":0,"l":0},{"r":33,"d":13,"u":0,"l":0},{"r":33,"d":14,"u":0,"l":0},{"r":33,"d":15,"u":0,"l":0},{"r":33,"d":16,"u":0,"l":0},{"r":33,"d":17,"u":0,"l":0},{"r":33,"d":18,"u":0,"l":0},{"r":33,"d":19,"u":0,"l":0},{"r":33,"d":20,"u":0,"l":0},
{"r":34,"d":1,"u":0,"l":0},{"r":34,"d":2,"u":0,"l":0},{"r":34,"d":3,"u":0,"l":0},{"r":34,"d":4,"u":0,"l":0},{"r":34,"d":5,"u":30,"l":0},{"r":34,"d":6,"u":0,"l":0},{"r":34,"d":7,"u":0,"l":0},{"r":34,"d":8,"u":0,"l":0},{"r":34,"d":9,"u":0,"l":0},{"r":34,"d":10,"u":70,"l":0},{"r":34,"d":11,"u":67,"l":0},{"r":34,"d":12,"u":0,"l":0},{"r":34,"d":13,"u":0,"l":0},{"r":34,"d":14,"u":0,"l":0},{"r":34,"d":15,"u":0,"l":0},{"r":34,"d":16,"u":0,"l":0},{"r":34,"d":17,"u":87,"l":0},{"r":34,"d":18,"u":0,"l":0},{"r":34,"d":19,"u":0,"l":0},{"r":34,"d":20,"u":0,"l":0},
{"r":35,"d":1,"u":0,"l":0},{"r":35,"d":2,"u":0,"l":0},{"r":35,"d":3,"u":0,"l":0},{"r":35,"d":4,"u":0,"l":83},{"r":35,"d":5,"u":0,"l":0},{"r":35,"d":6,"u":0,"l":0},{"r":35,"d":7,"u":0,"l":0},{"r":35,"d":8,"u":0,"l":0},{"r":35,"d":9,"u":47,"l":0},{"r":35,"d":10,"u":44,"l":0},{"r":35,"d":11,"u":0,"l":0},{"r":35,"d":12,"u":0,"l":0},{"r":35,"d":13,"u":0,"l":0},{"r":35,"d":14,"u":0,"l":0},{"r":35,"d":15,"u":0,"l":0},{"r":35,"d":16,"u":0,"l":0},{"r":35,"d":17,"u":0,"l":0},{"r":35,"d":18,"u":0,"l":0},{"r":35,"d":19,"u":0,"l":0},{"r":35,"d":20,"u":0,"l":0},
{"r":36,"d":1,"u":0,"l":0},{"r":36,"d":2,"u":0,"l":0},{"r":36,"d":3,"u":0,"l":0},{"r":36,"d":4,"u":0,"l":0},{"r":36,"d":5,"u":0,"l":0},{"r":36,"d":6,"u":0,"l":0},{"r":36,"d":7,"u":0,"l":0},{"r":36,"d":8,"u":0,"l":0},{"r":36,"d":9,"u":0,"l":0},{"r":36,"d":10,"u":0,"l":0},{"r":36,"d":11,"u":0,"l":0},{"r":36,"d":12,"u":0,"l":0},{"r":36,"d":13,"u":0,"l":0},{"r":36,"d":14,"u":0,"l":0},{"r":36,"d":15,"u":0,"l":0},{"r":36,"d":16,"u":0,"l":0},{"r":36,"d":17,"u":0,"l":0},{"r":36,"d":18,"u":0,"l":0},{"r":36,"d":19,"u":0,"l":0},{"r":36,"d":20,"u":0,"l":0},
{"r":37,"d":1,"u":0,"l":0},{"r":37,"d":2,"u":0,"l":0},{"r":37,"d":3,"u":0,"l":0},{"r":37,"d":4,"u":0,"l":0},{"r":37,"d":5,"u":0,"l":0},{"r":37,"d":6,"u":0,"l":0},{"r":37,"d":7,"u":30,"l":0},{"r":37,"d":8,"u":0,"l":0},{"r":37,"d":9,"u":57,"l":0},{"r":37,"d":10,"u":44,"l":0},{"r":37,"d":11,"u":0,"l":0},{"r":37,"d":12,"u":0,"l":0},{"r":37,"d":13,"u":0,"l":0},{"r":37,"d":14,"u":0,"l":0},{"r":37,"d":15,"u":0,"l":0},{"r":37,"d":16,"u":0,"l":0},{"r":37,"d":17,"u":0,"l":0},{"r":37,"d":18,"u":0,"l":0},{"r":37,"d":19,"u":0,"l":0},{"r":37,"d":20,"u":22,"l":0},
{"r":38,"d":1,"u":0,"l":0},{"r":38,"d":2,"u":0,"l":0},{"r":38,"d":3,"u":0,"l":0},{"r":38,"d":4,"u":0,"l":0},{"r":38,"d":5,"u":0,"l":0},{"r":38,"d":6,"u":0,"l":0},{"r":38,"d":7,"u":0,"l":0},{"r":38,"d":8,"u":0,"l":0},{"r":38,"d":9,"u":77,"l":0},{"r":38,"d":10,"u":0,"l":0},{"r":38,"d":11,"u":0,"l":0},{"r":38,"d":12,"u":0,"l":0},{"r":38,"d":13,"u":0,"l":0},{"r":38,"d":14,"u":0,"l":0},{"r":38,"d":15,"u":0,"l":0},{"r":38,"d":16,"u":0,"l":0},{"r":38,"d":17,"u":0,"l":0},{"r":38,"d":18,"u":0,"l":0},{"r":38,"d":19,"u":0,"l":0},{"r":38,"d":20,"u":38,"l":0},
{"r":39,"d":1,"u":0,"l":0},{"r":39,"d":2,"u":0,"l":0},{"r":39,"d":3,"u":0,"l":0},{"r":39,"d":4,"u":0,"l":0},{"r":39,"d":5,"u":0,"l":0},{"r":39,"d":6,"u":0,"l":0},{"r":39,"d":7,"u":0,"l":0},{"r":39,"d":8,"u":0,"l":0},{"r":39,"d":9,"u":0,"l":0},{"r":39,"d":10,"u":0,"l":0},{"r":39,"d":11,"u":0,"l":0},{"r":39,"d":12,"u":0,"l":0},{"r":39,"d":13,"u":0,"l":0},{"r":39,"d":14,"u":0,"l":0},{"r":39,"d":15,"u":0,"l":0},{"r":39,"d":16,"u":0,"l":0},{"r":39,"d":17,"u":0,"l":0},{"r":39,"d":18,"u":0,"l":0},{"r":39,"d":19,"u":0,"l":0},{"r":39,"d":20,"u":38,"l":0},
{"r":40,"d":1,"u":0,"l":0},{"r":40,"d":2,"u":0,"l":0},{"r":40,"d":3,"u":0,"l":0},{"r":40,"d":4,"u":0,"l":0},{"r":40,"d":5,"u":0,"l":0},{"r":40,"d":6,"u":0,"l":0},{"r":40,"d":7,"u":0,"l":0},{"r":40,"d":8,"u":0,"l":0},{"r":40,"d":9,"u":0,"l":0},{"r":40,"d":10,"u":33,"l":0},{"r":40,"d":11,"u":44,"l":0},{"r":40,"d":12,"u":0,"l":0},{"r":40,"d":13,"u":0,"l":0},{"r":40,"d":14,"u":0,"l":0},{"r":40,"d":15,"u":0,"l":0},{"r":40,"d":16,"u":0,"l":0},{"r":40,"d":17,"u":0,"l":0},{"r":40,"d":18,"u":0,"l":0},{"r":40,"d":19,"u":0,"l":0},{"r":40,"d":20,"u":38,"l":0},
{"r":41,"d":1,"u":0,"l":0},{"r":41,"d":2,"u":0,"l":0},{"r":41,"d":3,"u":0,"l":0},{"r":41,"d":4,"u":0,"l":0},{"r":41,"d":5,"u":0,"l":0},{"r":41,"d":6,"u":30,"l":0},{"r":41,"d":7,"u":33,"l":0},{"r":41,"d":8,"u":30,"l":0},{"r":41,"d":9,"u":80,"l":0},{"r":41,"d":10,"u":47,"l":0},{"r":41,"d":11,"u":47,"l":0},{"r":41,"d":12,"u":0,"l":0},{"r":41,"d":13,"u":0,"l":0},{"r":41,"d":14,"u":0,"l":0},{"r":41,"d":15,"u":0,"l":0},{"r":41,"d":16,"u":0,"l":0},{"r":41,"d":17,"u":0,"l":0},{"r":41,"d":18,"u":0,"l":0},{"r":41,"d":19,"u":0,"l":0},{"r":41,"d":20,"u":44,"l":0},
{"r":42,"d":1,"u":0,"l":0},{"r":42,"d":2,"u":0,"l":0},{"r":42,"d":3,"u":0,"l":0},{"r":42,"d":4,"u":0,"l":0},{"r":42,"d":5,"u":0,"l":0},{"r":42,"d":6,"u":0,"l":0},{"r":42,"d":7,"u":0,"l":0},{"r":42,"d":8,"u":0,"l":0},{"r":42,"d":9,"u":0,"l":0},{"r":42,"d":10,"u":0,"l":0},{"r":42,"d":11,"u":0,"l":0},{"r":42,"d":12,"u":0,"l":0},{"r":42,"d":13,"u":0,"l":0},{"r":42,"d":14,"u":0,"l":0},{"r":42,"d":15,"u":0,"l":0},{"r":42,"d":16,"u":0,"l":0},{"r":42,"d":17,"u":0,"l":0},{"r":42,"d":18,"u":0,"l":0},{"r":42,"d":19,"u":0,"l":0},{"r":42,"d":20,"u":0,"l":0},
{"r":43,"d":1,"u":0,"l":0},{"r":43,"d":2,"u":0,"l":0},{"r":43,"d":3,"u":0,"l":0},{"r":43,"d":4,"u":87,"l":83},{"r":43,"d":5,"u":0,"l":0},{"r":43,"d":6,"u":44,"l":33},{"r":43,"d":7,"u":0,"l":0},{"r":43,"d":8,"u":0,"l":44},{"r":43,"d":9,"u":0,"l":0},{"r":43,"d":10,"u":80,"l":73},{"r":43,"d":11,"u":80,"l":77},{"r":43,"d":12,"u":0,"l":0},{"r":43,"d":13,"u":0,"l":0},{"r":43,"d":14,"u":0,"l":0},{"r":43,"d":15,"u":0,"l":0},{"r":43,"d":16,"u":0,"l":0},{"r":43,"d":17,"u":87,"l":93},{"r":43,"d":18,"u":0,"l":0},{"r":43,"d":19,"u":0,"l":0},{"r":43,"d":20,"u":0,"l":0},
{"r":44,"d":1,"u":0,"l":0},{"r":44,"d":2,"u":0,"l":0},{"r":44,"d":3,"u":0,"l":0},{"r":44,"d":4,"u":0,"l":0},{"r":44,"d":5,"u":0,"l":0},{"r":44,"d":6,"u":0,"l":0},{"r":44,"d":7,"u":0,"l":0},{"r":44,"d":8,"u":0,"l":0},{"r":44,"d":9,"u":0,"l":0},{"r":44,"d":10,"u":33,"l":0},{"r":44,"d":11,"u":0,"l":0},{"r":44,"d":12,"u":0,"l":0},{"r":44,"d":13,"u":0,"l":0},{"r":44,"d":14,"u":0,"l":0},{"r":44,"d":15,"u":0,"l":0},{"r":44,"d":16,"u":0,"l":0},{"r":44,"d":17,"u":33,"l":0},{"r":44,"d":18,"u":0,"l":0},{"r":44,"d":19,"u":0,"l":0},{"r":44,"d":20,"u":0,"l":0},
{"r":45,"d":1,"u":0,"l":0},{"r":45,"d":2,"u":0,"l":0},{"r":45,"d":3,"u":0,"l":0},{"r":45,"d":4,"u":70,"l":33},{"r":45,"d":5,"u":0,"l":0},{"r":45,"d":6,"u":0,"l":0},{"r":45,"d":7,"u":0,"l":0},{"r":45,"d":8,"u":0,"l":0},{"r":45,"d":9,"u":0,"l":0},{"r":45,"d":10,"u":0,"l":0},{"r":45,"d":11,"u":0,"l":0},{"r":45,"d":12,"u":0,"l":0},{"r":45,"d":13,"u":0,"l":0},{"r":45,"d":14,"u":0,"l":0},{"r":45,"d":15,"u":0,"l":0},{"r":45,"d":16,"u":0,"l":0},{"r":45,"d":17,"u":0,"l":0},{"r":45,"d":18,"u":0,"l":0},{"r":45,"d":19,"u":0,"l":0},{"r":45,"d":20,"u":0,"l":0},
{"r":46,"d":1,"u":0,"l":0},{"r":46,"d":2,"u":0,"l":0},{"r":46,"d":3,"u":0,"l":0},{"r":46,"d":4,"u":96,"l":75},{"r":46,"d":5,"u":83,"l":0},{"r":46,"d":6,"u":38,"l":0},{"r":46,"d":7,"u":0,"l":0},{"r":46,"d":8,"u":0,"l":0},{"r":46,"d":9,"u":83,"l":0},{"r":46,"d":10,"u":93,"l":57},{"r":46,"d":11,"u":93,"l":63},{"r":46,"d":12,"u":0,"l":0},{"r":46,"d":13,"u":0,"l":0},{"r":46,"d":14,"u":0,"l":0},{"r":46,"d":15,"u":0,"l":0},{"r":46,"d":16,"u":67,"l":0},{"r":46,"d":17,"u":87,"l":0},{"r":46,"d":18,"u":0,"l":0},{"r":46,"d":19,"u":0,"l":0},{"r":46,"d":20,"u":0,"l":0},
{"r":47,"d":1,"u":0,"l":0},{"r":47,"d":2,"u":0,"l":0},{"r":47,"d":3,"u":0,"l":30},{"r":47,"d":4,"u":0,"l":0},{"r":47,"d":5,"u":0,"l":0},{"r":47,"d":6,"u":0,"l":30},{"r":47,"d":7,"u":0,"l":0},{"r":47,"d":8,"u":0,"l":0},{"r":47,"d":9,"u":44,"l":0},{"r":47,"d":10,"u":25,"l":0},{"r":47,"d":11,"u":0,"l":0},{"r":47,"d":12,"u":0,"l":0},{"r":47,"d":13,"u":0,"l":0},{"r":47,"d":14,"u":0,"l":0},{"r":47,"d":15,"u":0,"l":0},{"r":47,"d":16,"u":0,"l":0},{"r":47,"d":17,"u":0,"l":0},{"r":47,"d":18,"u":0,"l":0},{"r":47,"d":19,"u":0,"l":0},{"r":47,"d":20,"u":0,"l":0},
{"r":48,"d":1,"u":0,"l":0},{"r":48,"d":2,"u":0,"l":0},{"r":48,"d":3,"u":0,"l":0},{"r":48,"d":4,"u":0,"l":0},{"r":48,"d":5,"u":0,"l":0},{"r":48,"d":6,"u":47,"l":0},{"r":48,"d":7,"u":0,"l":0},{"r":48,"d":8,"u":0,"l":0},{"r":48,"d":9,"u":0,"l":0},{"r":48,"d":10,"u":0,"l":0},{"r":48,"d":11,"u":0,"l":0},{"r":48,"d":12,"u":0,"l":0},{"r":48,"d":13,"u":0,"l":0},{"r":48,"d":14,"u":0,"l":0},{"r":48,"d":15,"u":0,"l":0},{"r":48,"d":16,"u":0,"l":0},{"r":48,"d":17,"u":0,"l":0},{"r":48,"d":18,"u":0,"l":0},{"r":48,"d":19,"u":0,"l":0},{"r":48,"d":20,"u":0,"l":0},
{"r":49,"d":1,"u":0,"l":30},{"r":49,"d":2,"u":0,"l":0},{"r":49,"d":3,"u":0,"l":0},{"r":49,"d":4,"u":0,"l":0},{"r":49,"d":5,"u":0,"l":0},{"r":49,"d":6,"u":0,"l":0},{"r":49,"d":7,"u":0,"l":0},{"r":49,"d":8,"u":0,"l":0},{"r":49,"d":9,"u":0,"l":0},{"r":49,"d":10,"u":87,"l":0},{"r":49,"d":11,"u":0,"l":0},{"r":49,"d":12,"u":0,"l":0},{"r":49,"d":13,"u":0,"l":0},{"r":49,"d":14,"u":0,"l":33},{"r":49,"d":15,"u":0,"l":0},{"r":49,"d":16,"u":0,"l":0},{"r":49,"d":17,"u":0,"l":0},{"r":49,"d":18,"u":0,"l":0},{"r":49,"d":19,"u":0,"l":0},{"r":49,"d":20,"u":0,"l":0},
{"r":50,"d":1,"u":0,"l":0},{"r":50,"d":2,"u":0,"l":0},{"r":50,"d":3,"u":0,"l":0},{"r":50,"d":4,"u":0,"l":0},{"r":50,"d":5,"u":60,"l":38},{"r":50,"d":6,"u":0,"l":0},{"r":50,"d":7,"u":0,"l":0},{"r":50,"d":8,"u":0,"l":0},{"r":50,"d":9,"u":0,"l":77},{"r":50,"d":10,"u":83,"l":33},{"r":50,"d":11,"u":50,"l":0},{"r":50,"d":12,"u":0,"l":0},{"r":50,"d":13,"u":0,"l":0},{"r":50,"d":14,"u":0,"l":0},{"r":50,"d":15,"u":0,"l":0},{"r":50,"d":16,"u":0,"l":0},{"r":50,"d":17,"u":73,"l":0},{"r":50,"d":18,"u":0,"l":0},{"r":50,"d":19,"u":0,"l":0},{"r":50,"d":20,"u":0,"l":0}
]
},
"hconcat":[
{
"width":85,"height":1402,
"data":{"name":"rows"},
"title":{"text":["Design","strategy"],"lineHeight":28,"offset":4},
"encoding":{"y":{"field":"m","type":"nominal","sort":{"field":"r"},"axis":null,"scale":{"paddingInner":0,"paddingOuter":0,"range":[0,1408]}}},
"layer":[
{"mark":{"type":"rect","strokeWidth":0.6,"clip":true},
"encoding":{
"fill":{"field":"s","type":"nominal","legend":null,"scale":{"domain":["Parental","S1","S2","S3","S4","S5"],"range":["#ffffff","#f0ff00","#ffb900","#ff0000","#50dcff","#88ff22"]}},
"stroke":{"field":"s","type":"nominal","legend":null,"scale":{"domain":["Parental","S1","S2","S3","S4","S5"],"range":["#ffffff","#f0ff00","#ffb900","#ff0000","#50dcff","#88ff22"]}}}},
{"transform":[{"filter":"datum.s == 'Parental'"}],
"mark":{"type":"text","fontSize":17,"color":"#111111"},
"encoding":{"text":{"field":"s","type":"nominal"}}}
]
},
{
"width":292,"height":1402,
"data":{"name":"rows"},
"title":{"text":"Molecule","offset":32},
"encoding":{"y":{"field":"m","type":"nominal","sort":{"field":"r"},"axis":null,"scale":{"paddingInner":0,"paddingOuter":0,"range":[0,1408]}}},
"layer":[
{"transform":[{"filter":"datum.g == 1"}],
"mark":{"type":"rect","fill":"#c0c0c0","stroke":"#c0c0c0","strokeWidth":0.6,"clip":true},
"encoding":{}},
{"mark":{"type":"text","fontSize":17,"color":"#111111","dx":6.5},
"encoding":{"text":{"field":"m","type":"nominal"}}}
]
},
{
"width":630,"height":1402,
"data":{"name":"cells"},
"transform":[{"lookup":"r","from":{"data":{"name":"rows"},"key":"r","fields":["m"]}}],
"encoding":{
"x":{"field":"d","type":"ordinal","scale":{"type":"band","paddingInner":0,"paddingOuter":0.08,"align":1},
"axis":{"orient":"top","title":"Donor","labelAngle":0,"domain":false,"ticks":false,"tickSize":0,"labelPadding":3.5,"titlePadding":10,"labelFontSize":17,"labelFontWeight":"bold","labelColor":"black","titleFontSize":17,"titleFontWeight":"bold","titleColor":"black","labelFont":"DejaVu Sans","titleFont":"DejaVu Sans"}},
"y":{"field":"m","type":"nominal","sort":{"field":"r"},"axis":null,"scale":{"type":"band","paddingInner":0,"paddingOuter":0,"range":[0,1408]}}
},
"layer":[
{"mark":{"type":"point","shape":"M -1 -0.9011 L 1 -0.9011 L 1 0.9011 Z","size":976.5625,"filled":true,"opacity":1,"stroke":"black","strokeWidth":1.3,"clip":true},
"encoding":{"fill":{"field":"u","type":"quantitative","legend":null,"scale":{"domain":[0,50,100],"range":["#33ff00","#ffff00","#ff0000"],"interpolate":"rgb"}}}},
{"mark":{"type":"point","shape":"M -1 -0.9011 L -1 0.9011 L 1 0.9011 Z","size":976.5625,"filled":true,"opacity":1,"stroke":"black","strokeWidth":1.3,"clip":true},
"encoding":{"fill":{"field":"l","type":"quantitative","legend":null,"scale":{"domain":[0,50,100],"range":["#33ff00","#ffff00","#ff0000"],"interpolate":"rgb"}}}}
]
}
]
}
